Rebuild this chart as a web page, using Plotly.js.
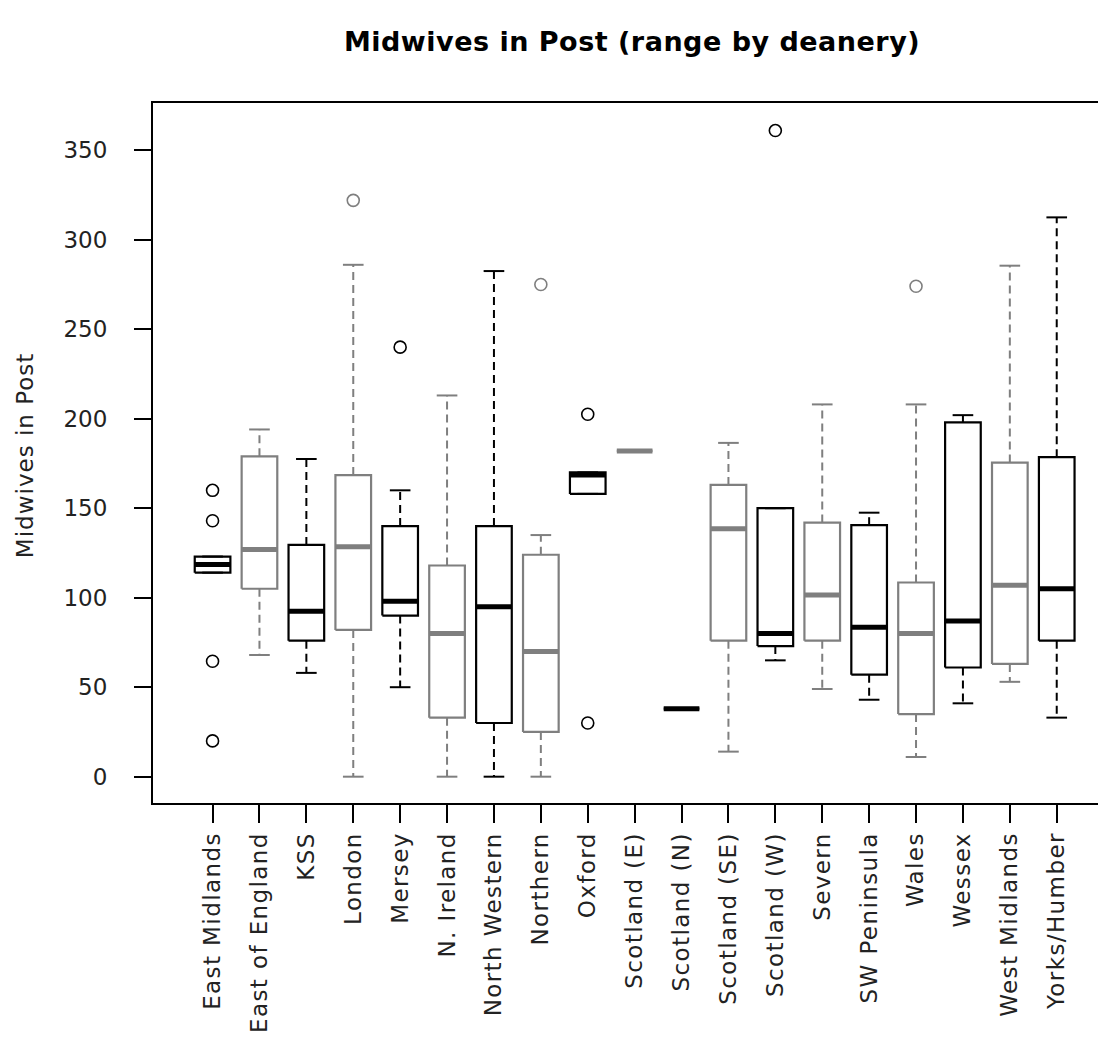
<!DOCTYPE html>
<html>
<head>
<meta charset="utf-8">
<script src="https://cdn.plot.ly/plotly-3.0.1.min.js"></script>
<style>
html,body{margin:0;padding:0;background:#fff;}
#chart{width:1098px;height:1039px;}
#chart .xtick text{letter-spacing:1.4px;}
#chart .annotation-text{letter-spacing:1px;}
#chart .gtitle{letter-spacing:0.5px;}
</style>
</head>
<body>
<div id="chart"></div>
<script>
// ---- Data ----
const categories = ["East Midlands","East of England","KSS","London","Mersey","N. Ireland","North Western","Northern","Oxford","Scotland (E)","Scotland (N)","Scotland (SE)","Scotland (W)","Severn","SW Peninsula","Wales","Wessex","West Midlands","Yorks/Humber"];
const lowerWhisker = [114, 68, 58, 0, 50, 0, 0, 0, 158, 182, 38, 14, 65, 49, 43, 11, 41, 53, 33];
const q1           = [114, 105, 76, 82, 90, 33, 30, 25, 158, 182, 38, 76, 73, 76, 57, 35, 61, 63, 76];
const medians      = [118.5, 127, 92.5, 128.5, 98, 80, 95, 70, 168.5, 182, 38, 138.5, 80, 101.5, 83.5, 80, 87, 107, 105];
const q3           = [123, 179, 129.5, 168.5, 140, 118, 140, 124, 170, 182, 38, 163, 150, 142, 140.5, 108.5, 198, 175.5, 178.5];
const upperWhisker = [123, 194, 177.5, 286, 160, 213, 282.5, 135, 170, 182, 38, 186.5, 150, 208, 147.5, 208, 202, 285.5, 312.5];
const outliers     = [[160,143,64.5,20],[],[],[322],[240],[],[],[275],[202.5,30],[],[],[],[361],[],[],[274],[],[],[]];
const yTickValues  = [0,50,100,150,200,250,300,350];
const chartTitle   = "Midwives in Post (range by deanery)";
const yAxisTitle   = "Midwives in Post";

// ---- Styling ----
const BLACK = "#000000", GRAY = "#7f7f7f";
const HALF_BOX = 0.38, HALF_STAPLE = 0.22;
const FONT = "DejaVu Sans, Verdana, sans-serif";

function groupTraces(parity, color){
  const bx=[],by=[],mx=[],my=[],wx=[],wy=[],sx=[],sy=[],ox=[],oy=[];
  categories.forEach((c,i)=>{
    if(i%2!==parity) return;
    const p=i+1;
    bx.push(p-HALF_BOX,p+HALF_BOX,p+HALF_BOX,p-HALF_BOX,p-HALF_BOX,null);
    by.push(q1[i],q1[i],q3[i],q3[i],q1[i],null);
    mx.push(p-HALF_BOX,p+HALF_BOX,null); my.push(medians[i],medians[i],null);
    if(upperWhisker[i]>q3[i]){ wx.push(p,p,null); wy.push(q3[i],upperWhisker[i],null); }
    if(lowerWhisker[i]<q1[i]){ wx.push(p,p,null); wy.push(q1[i],lowerWhisker[i],null); }
    sx.push(p-HALF_STAPLE,p+HALF_STAPLE,null,p-HALF_STAPLE,p+HALF_STAPLE,null);
    sy.push(upperWhisker[i],upperWhisker[i],null,lowerWhisker[i],lowerWhisker[i],null);
    outliers[i].forEach(v=>{ox.push(p);oy.push(v);});
  });
  return [
    {type:"scatter",mode:"lines",x:wx,y:wy,line:{color:color,width:2,dash:"8px,5px"},hoverinfo:"skip"},
    {type:"scatter",mode:"lines",x:sx,y:sy,line:{color:color,width:2},hoverinfo:"skip"},
    {type:"scatter",mode:"lines",x:bx,y:by,line:{color:color,width:2.2},fill:"none",hoverinfo:"skip"},
    {type:"scatter",mode:"lines",x:mx,y:my,line:{color:color,width:5},hoverinfo:"skip"},
    {type:"scatter",mode:"markers",x:ox,y:oy,marker:{symbol:"circle-open",size:12,color:color,line:{width:1.6,color:color}},hoverinfo:"y"}
  ];
}

const data = [...groupTraces(0,BLACK), ...groupTraces(1,GRAY)];

const layout = {
  width:1098, height:1039,
  margin:{l:153,r:0,t:103,b:236},
  paper_bgcolor:"#ffffff", plot_bgcolor:"#ffffff",
  showlegend:false,
  font:{family:FONT,color:"#000"},
  title:{text:"<b>"+chartTitle+"</b>",
         font:{family:FONT,size:27,color:"#000"},
         xref:"container",yref:"container",x:0.5756,y:0.9596,xanchor:"center",yanchor:"middle"},
  xaxis:{
    range:[-0.27,19.88], tickvals:categories.map((c,i)=>i+1), ticktext:categories,
    tickangle:-90, ticks:"outside", ticklen:18, tickwidth:2, tickcolor:"#000",
    ticklabelstandoff:0,
    showline:true, linewidth:2, linecolor:"#000", mirror:true,
    showgrid:false, zeroline:false,
    tickfont:{family:FONT,size:23,color:"#222"}
  },
  yaxis:{
    range:[-14.7,376.4], tickvals:yTickValues, ticktext:yTickValues.map(String),
    ticks:"outside", ticklen:17, tickwidth:2, tickcolor:"#000",
    ticklabelstandoff:22,
    showline:true, linewidth:2, linecolor:"#000", mirror:false,
    showgrid:false, zeroline:false,
    tickfont:{family:FONT,size:23,color:"#222"}
  },
  annotations:[{
    text:yAxisTitle, textangle:-90, showarrow:false,
    xref:"paper", yref:"paper", x:-0.1354, y:0.497, xanchor:"center", yanchor:"middle",
    font:{family:FONT,size:23,color:"#222"}
  }]
};

Plotly.newPlot("chart", data, layout, {staticPlot:true, displayModeBar:false});
</script>
</body>
</html>
